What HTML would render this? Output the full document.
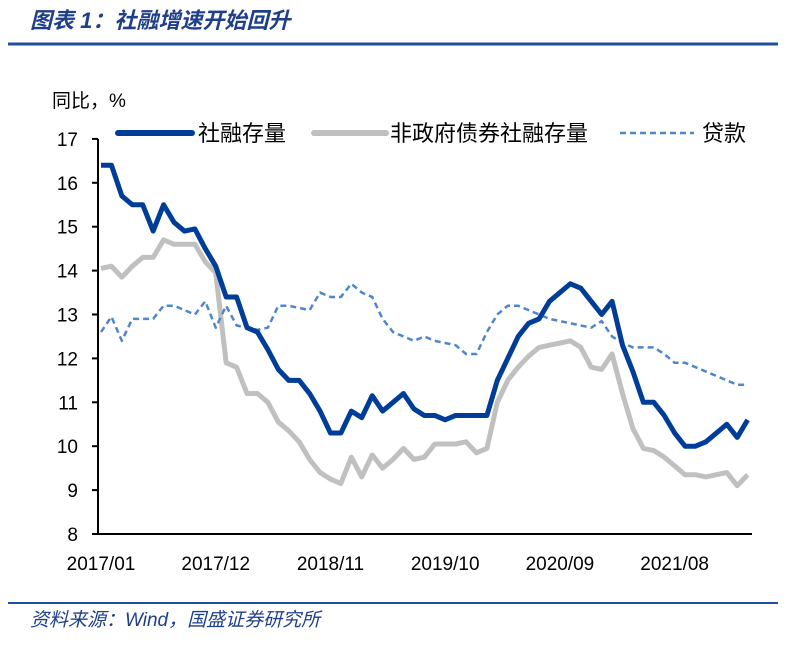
<!DOCTYPE html>
<html><head><meta charset="utf-8"><style>
body{margin:0;background:#fff;width:801px;height:641px;overflow:hidden;font-family:"Liberation Sans","Noto Sans CJK SC",sans-serif}
</style></head><body>
<svg width="801" height="641" xmlns="http://www.w3.org/2000/svg" font-family="Liberation Sans, Noto Sans CJK SC, sans-serif">
<text x="30" y="28" font-size="22" font-weight="bold" font-style="italic" fill="#1f3f8a">图表 1：社融增速开始回升</text>
<line x1="8" y1="44" x2="778" y2="44" stroke="#1f4e9a" stroke-width="3"/>
<text x="52" y="107" font-size="19" fill="#000">同比，%</text>
<g id="axes"></g>
<g id="series"></g>
<g>
<line x1="118" y1="133" x2="192" y2="133" stroke="#003d99" stroke-width="6" stroke-linecap="round"/>
<text x="198" y="141" font-size="22">社融存量</text>
<line x1="314" y1="133" x2="386" y2="133" stroke="#c0c0c0" stroke-width="6" stroke-linecap="round"/>
<text x="390" y="141" font-size="22">非政府债券社融存量</text>
<line x1="620" y1="133" x2="694" y2="133" stroke="#4f86cc" stroke-width="2.5" stroke-dasharray="6,4"/>
<text x="702" y="141" font-size="22">贷款</text>
</g>
<line x1="8" y1="603" x2="778" y2="603" stroke="#1f4e9a" stroke-width="2"/>
<text x="30" y="626" font-size="19" font-style="italic" fill="#1f3f8a">资料来源：Wind，国盛证券研究所</text>
</svg>
<script>
const tsf=[16.4,16.4,15.7,15.5,15.5,14.9,15.5,15.1,14.9,14.95,14.5,14.1,13.4,13.4,12.7,12.6,12.2,11.75,11.5,11.5,11.2,10.8,10.3,10.3,10.8,10.65,11.15,10.8,11.0,11.2,10.85,10.7,10.7,10.6,10.7,10.7,10.7,10.7,11.5,12.0,12.5,12.8,12.9,13.3,13.5,13.7,13.6,13.3,13.0,13.3,12.3,11.7,11.0,11.0,10.7,10.3,10.0,10.0,10.1,10.3,10.5,10.2,10.6];
const nonGov=[14.05,14.1,13.85,14.1,14.3,14.3,14.7,14.6,14.6,14.6,14.2,13.95,11.9,11.8,11.2,11.2,11.0,10.55,10.35,10.1,9.7,9.4,9.25,9.15,9.75,9.3,9.8,9.5,9.7,9.95,9.7,9.75,10.05,10.05,10.05,10.1,9.85,9.95,11.0,11.5,11.8,12.05,12.25,12.3,12.35,12.4,12.25,11.8,11.75,12.1,11.2,10.4,9.95,9.9,9.75,9.55,9.35,9.35,9.3,9.35,9.4,9.1,9.35];
const loans=[12.6,12.95,12.4,12.9,12.9,12.9,13.2,13.2,13.1,13.0,13.3,12.7,13.2,12.75,12.7,12.65,12.7,13.2,13.2,13.15,13.1,13.5,13.4,13.4,13.7,13.5,13.4,12.9,12.6,12.5,12.4,12.5,12.4,12.35,12.3,12.1,12.1,12.6,13.0,13.2,13.2,13.1,13.0,12.9,12.85,12.8,12.75,12.7,12.85,12.5,12.35,12.25,12.25,12.25,12.1,11.9,11.9,11.8,11.7,11.6,11.5,11.4,11.4];
const yTicks=[8,9,10,11,12,13,14,15,16,17];
const xLabels=["2017/01","2017/12","2018/11","2019/10","2020/09","2021/08"];
const xLabelIdx=[0,11,22,33,44,55];
const NS="http://www.w3.org/2000/svg";
const x=i=>101+i*10.43;
const y=v=>534-(v-8)*43.9;
const ax=document.getElementById('axes'),sg=document.getElementById('series');
function mk(tag,at,p){const e=document.createElementNS(NS,tag);for(const k in at)e.setAttribute(k,at[k]);p.appendChild(e);return e;}
const yl=mk('line',{x1:98,y1:y(17),x2:98,y2:534,stroke:'#000','stroke-width':2},ax);


const xl=mk('line',{x1:98,y1:534,x2:752,y2:534,stroke:'#000','stroke-width':2},ax);


yTicks.forEach(t=>{mk('line',{x1:92,y1:y(t),x2:98,y2:y(t),stroke:'#000','stroke-width':2},ax);
const tx=mk('text',{x:78,y:y(t)+7,'font-size':19,'text-anchor':'end'},ax);tx.textContent=t;

});
xLabels.forEach((l,k)=>{const tx=mk('text',{x:x(xLabelIdx[k]),y:570,'font-size':19,'text-anchor':'middle'},ax);tx.textContent=l;

});
function line(d,st,name){const p=mk('polyline',Object.assign({points:d.map((v,i)=>x(i)+','+y(v)).join(' '),fill:'none','stroke-linejoin':'round'},st),sg);

}
line(nonGov,{stroke:'#c0c0c0','stroke-width':5},'series-non-gov');
line(loans,{stroke:'#4f86cc','stroke-width':2.5,'stroke-dasharray':'6,4'},'series-loans');
line(tsf,{stroke:'#003d99','stroke-width':5},'series-tsf');
</script>
</body></html>
